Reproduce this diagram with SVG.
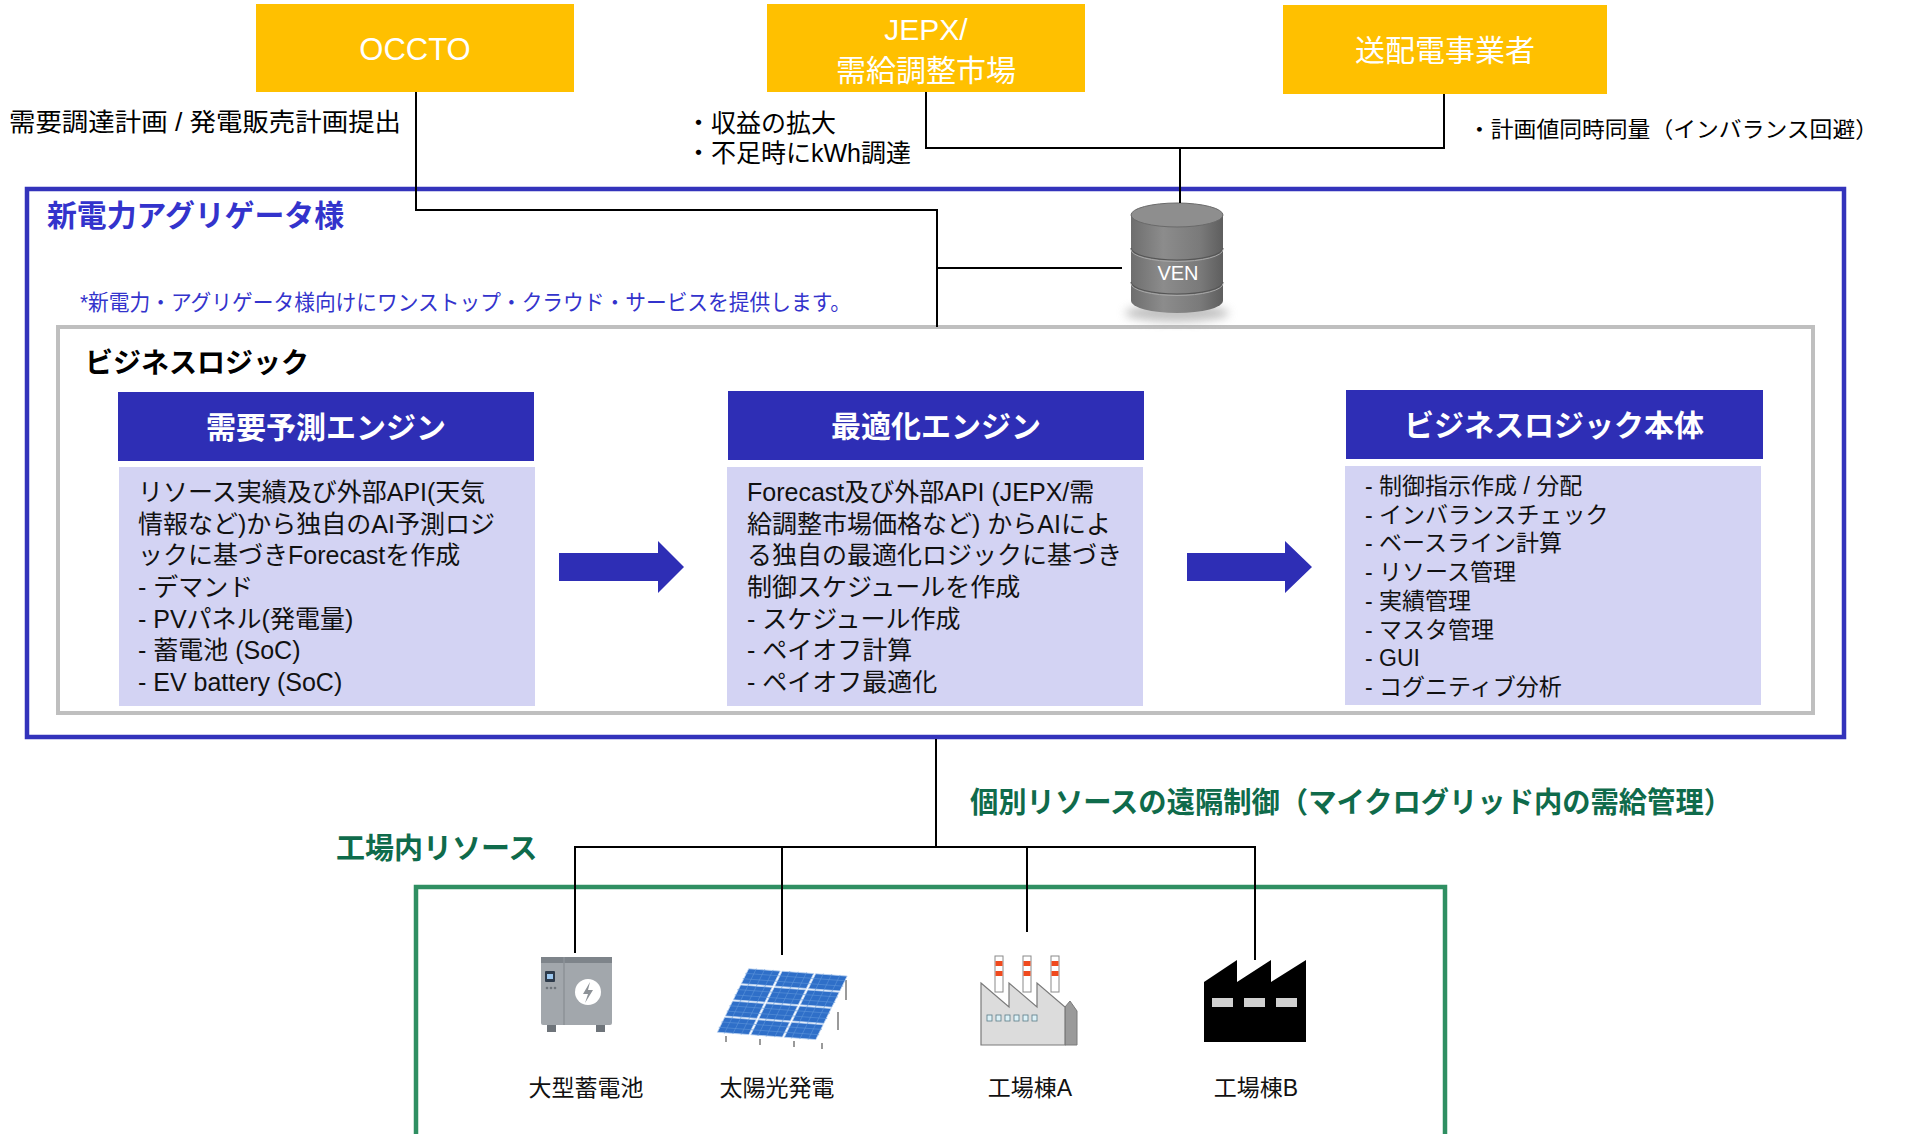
<svg xmlns="http://www.w3.org/2000/svg" width="1908" height="1134" viewBox="0 0 1908 1134">
  <style>
    text { font-family: "Liberation Sans", "Noto Sans CJK JP", sans-serif; }
    .ext { fill: #FFC000; }
    .ext-t { fill: #FFFFFF; font-size: 30px; text-anchor: middle; }
    .note { fill: #000000; font-size: 25px; }
    .conn { fill: none; stroke: #000000; stroke-width: 2; }
    .hdr { fill: #2E2EB5; }
    .hdr-t { fill: #FFFFFF; font-size: 30px; font-weight: bold; text-anchor: middle; }
    .body { fill: #D3D3F3; }
    .body-t { fill: #111111; font-size: 25px; }
    .body-s { fill: #111111; font-size: 23px; }
    .flow { fill: #2E2EB5; }
    .green-t { fill: #0F6B4B; font-size: 29px; font-weight: bold; }
    .icon-t { fill: #111111; font-size: 23px; text-anchor: middle; }
  </style>
  <defs>
    <linearGradient id="cyl" x1="0" y1="0" x2="1" y2="0">
      <stop offset="0" stop-color="#6E6E6E"/>
      <stop offset="0.35" stop-color="#8C8C8C"/>
      <stop offset="0.75" stop-color="#7A7A7A"/>
      <stop offset="1" stop-color="#5E5E5E"/>
    </linearGradient>
    <filter id="soft" x="-30%" y="-100%" width="160%" height="300%">
      <feGaussianBlur stdDeviation="5"/>
    </filter>
  </defs>

  <!-- external parties -->
  <g id="occto">
    <rect class="ext" x="256" y="4" width="318" height="88"/>
    <text class="ext-t" x="415" y="60" style="font-size:31px">OCCTO</text>
  </g>
  <g id="jepx">
    <rect class="ext" x="767" y="4" width="318" height="88"/>
    <text class="ext-t" x="926" y="40">JEPX/</text>
    <text class="ext-t" x="926" y="81">需給調整市場</text>
  </g>
  <g id="tso">
    <rect class="ext" x="1283" y="5" width="324" height="89"/>
    <text class="ext-t" x="1445" y="61">送配電事業者</text>
  </g>

  <!-- connector captions -->
  <g id="captions">
    <text class="note" x="9" y="131" textLength="392" lengthAdjust="spacingAndGlyphs">需要調達計画 / 発電販売計画提出</text>
    <text class="note" x="686" y="132">・収益の拡大</text>
    <text class="note" x="686" y="162">・不足時にkWh調達</text>
    <text class="note" x="1468" y="137" style="font-size:22px" textLength="410" lengthAdjust="spacingAndGlyphs">・計画値同時同量（インバランス回避）</text>
  </g>

  <!-- aggregator platform -->
  <g id="aggregator">
    <rect x="27" y="189" width="1817" height="548" fill="#FFFFFF" stroke="#3333BB" stroke-width="4.5"/>
    <text x="47" y="226" fill="#3333CC" font-size="30" font-weight="bold" textLength="297" lengthAdjust="spacingAndGlyphs">新電力アグリゲータ様</text>
    <text x="80" y="310" fill="#3333CC" font-size="21.5" textLength="771" lengthAdjust="spacingAndGlyphs">*新電力・アグリゲータ様向けにワンストップ・クラウド・サービスを提供します。</text>
  </g>

  <g id="business-logic">
    <rect x="58" y="327" width="1755" height="386" fill="#FFFFFF" stroke="#BFBFBF" stroke-width="4"/>
    <text x="85" y="373" fill="#000000" font-size="28" font-weight="bold">ビジネスロジック</text>
  </g>

  <!-- VEN database -->
  <g id="ven">
    <ellipse cx="1177" cy="313" rx="52" ry="9" fill="#9A9A9A" opacity="0.6" filter="url(#soft)"/>
    <path d="M1131 215 V301 A46 12 0 0 0 1223 301 V215 Z" fill="url(#cyl)"/>
    <path d="M1131 248 A46 12 0 0 0 1223 248" fill="none" stroke="#555555" stroke-width="1.2"/>
    <path d="M1131 249.5 A46 12 0 0 0 1223 249.5" fill="none" stroke="#A8A8A8" stroke-width="1"/>
    <path d="M1131 282 A46 12 0 0 0 1223 282" fill="none" stroke="#555555" stroke-width="1.2"/>
    <path d="M1131 283.5 A46 12 0 0 0 1223 283.5" fill="none" stroke="#A8A8A8" stroke-width="1"/>
    <ellipse cx="1177" cy="215" rx="46" ry="12" fill="#8E8E8E" stroke="#6A6A6A" stroke-width="1"/>
    <text x="1178" y="280" fill="#FFFFFF" font-size="20" text-anchor="middle">VEN</text>
  </g>

  <!-- engines -->
  <g id="forecast-engine">
    <rect class="hdr" x="118" y="392" width="416" height="69"/>
    <text class="hdr-t" x="326" y="438">需要予測エンジン</text>
    <rect class="body" x="119" y="467" width="416" height="239"/>
    <text class="body-t" x="138" y="501">リソース実績及び外部API(天気</text>
    <text class="body-t" x="138" y="533">情報など)から独自のAI予測ロジ</text>
    <text class="body-t" x="138" y="564">ックに基づきForecastを作成</text>
    <text class="body-t" x="138" y="596">- デマンド</text>
    <text class="body-t" x="138" y="628">- PVパネル(発電量)</text>
    <text class="body-t" x="138" y="659">- 蓄電池 (SoC)</text>
    <text class="body-t" x="138" y="691">- EV battery (SoC)</text>
  </g>

  <g id="optimization-engine">
    <rect class="hdr" x="728" y="391" width="416" height="69"/>
    <text class="hdr-t" x="936" y="437">最適化エンジン</text>
    <rect class="body" x="727" y="467" width="416" height="239"/>
    <text class="body-t" x="747" y="501">Forecast及び外部API (JEPX/需</text>
    <text class="body-t" x="747" y="533">給調整市場価格など) からAIによ</text>
    <text class="body-t" x="747" y="564">る独自の最適化ロジックに基づき</text>
    <text class="body-t" x="747" y="596">制御スケジュールを作成</text>
    <text class="body-t" x="747" y="628">- スケジュール作成</text>
    <text class="body-t" x="747" y="659">- ペイオフ計算</text>
    <text class="body-t" x="747" y="691">- ペイオフ最適化</text>
  </g>

  <g id="business-core">
    <rect class="hdr" x="1346" y="390" width="417" height="69"/>
    <text class="hdr-t" x="1554" y="436">ビジネスロジック本体</text>
    <rect class="body" x="1345" y="466" width="416" height="239"/>
    <text class="body-s" x="1365" y="494">- 制御指示作成 / 分配</text>
    <text class="body-s" x="1365" y="523">- インバランスチェック</text>
    <text class="body-s" x="1365" y="551">- ベースライン計算</text>
    <text class="body-s" x="1365" y="580">- リソース管理</text>
    <text class="body-s" x="1365" y="609">- 実績管理</text>
    <text class="body-s" x="1365" y="638">- マスタ管理</text>
    <text class="body-s" x="1365" y="666">- GUI</text>
    <text class="body-s" x="1365" y="695">- コグニティブ分析</text>
  </g>

  <g id="flow-arrows">
    <polygon class="flow" points="559,553 658,553 658,541 684,567 658,593 658,581 559,581"/>
    <polygon class="flow" points="1187,553 1285,553 1285,541 1312,567 1285,593 1285,581 1187,581"/>
  </g>

  <!-- plant-side resources -->
  <g id="remote-control-label">
    <text class="green-t" x="970" y="813" textLength="762" lengthAdjust="spacingAndGlyphs">個別リソースの遠隔制御（マイクログリッド内の需給管理）</text>
  </g>
  <g id="factory-resources">
    <text class="green-t" x="336" y="859">工場内リソース</text>
    <rect x="416" y="887" width="1029" height="260" fill="none" stroke="#2F8F62" stroke-width="4.5"/>
  </g>

  <!-- connectors -->
  <g id="connectors">
    <path class="conn" d="M416 92 V210 H937 V327"/>
    <path class="conn" d="M937 268 H1122"/>
    <path class="conn" d="M926 92 V148 H1444 V94"/>
    <path class="conn" d="M1180 148 V203"/>
    <path class="conn" d="M936 739 V847"/>
    <path class="conn" d="M575 953 V847 H1255 V960"/>
    <path class="conn" d="M782 847 V955"/>
    <path class="conn" d="M1027 847 V932"/>
  </g>

  <!-- large storage battery -->
  <g id="battery">
    <rect x="541" y="957" width="71" height="68" rx="2" fill="#A2A7AC"/>
    <rect x="541" y="957" width="71" height="6" fill="#7E848A"/>
    <line x1="564" y1="957" x2="564" y2="1025" stroke="#8D9297" stroke-width="1.5"/>
    <rect x="545" y="971" width="10" height="11" rx="1" fill="#2D3A4A"/>
    <rect x="547" y="974" width="6" height="5" fill="#9CC8F0"/>
    <circle cx="547" cy="988" r="1.3" fill="#6E747A"/>
    <circle cx="551" cy="988" r="1.3" fill="#6E747A"/>
    <circle cx="555" cy="988" r="1.3" fill="#6E747A"/>
    <circle cx="588" cy="992" r="13" fill="#FFFFFF"/>
    <polygon points="590,982 583,994 588,994 585,1003 593,990 588,990" fill="#8D9297"/>
    <rect x="547" y="1025" width="9" height="7" fill="#6E747A"/>
    <rect x="596" y="1025" width="9" height="7" fill="#6E747A"/>
    <text class="icon-t" x="586" y="1096">大型蓄電池</text>
  </g>

  <!-- solar array -->
  <g id="solar">
    <g stroke="#9A9A9A" stroke-width="2">
      <line x1="726" y1="1036" x2="726" y2="1042"/>
      <line x1="760" y1="1039" x2="760" y2="1045"/>
      <line x1="794" y1="1041" x2="794" y2="1047"/>
      <line x1="822" y1="1043" x2="822" y2="1049"/>
      <line x1="846" y1="980" x2="846" y2="1000"/>
      <line x1="838" y1="1012" x2="838" y2="1030"/>
    </g>
    <g transform="matrix(33.5,2.5,-8,16.2,748,968)">
      <g fill="#2F6FC8" stroke="#BFD6F2" stroke-width="0.8" vector-effect="non-scaling-stroke">
        <rect x="0.03" y="0.04" width="0.94" height="0.92" vector-effect="non-scaling-stroke"/>
        <rect x="1.03" y="0.04" width="0.94" height="0.92" vector-effect="non-scaling-stroke"/>
        <rect x="2.03" y="0.04" width="0.94" height="0.92" vector-effect="non-scaling-stroke"/>
        <rect x="0.03" y="1.04" width="0.94" height="0.92" vector-effect="non-scaling-stroke"/>
        <rect x="1.03" y="1.04" width="0.94" height="0.92" vector-effect="non-scaling-stroke"/>
        <rect x="2.03" y="1.04" width="0.94" height="0.92" vector-effect="non-scaling-stroke"/>
        <rect x="0.03" y="2.04" width="0.94" height="0.92" vector-effect="non-scaling-stroke"/>
        <rect x="1.03" y="2.04" width="0.94" height="0.92" vector-effect="non-scaling-stroke"/>
        <rect x="2.03" y="2.04" width="0.94" height="0.92" vector-effect="non-scaling-stroke"/>
        <rect x="0.03" y="3.04" width="0.94" height="0.92" vector-effect="non-scaling-stroke"/>
        <rect x="1.03" y="3.04" width="0.94" height="0.92" vector-effect="non-scaling-stroke"/>
        <rect x="2.03" y="3.04" width="0.94" height="0.92" vector-effect="non-scaling-stroke"/>
      </g>
      <path d="M0.25 0 V4 M0.5 0 V4 M0.75 0 V4 M1.25 0 V4 M1.5 0 V4 M1.75 0 V4 M2.25 0 V4 M2.5 0 V4 M2.75 0 V4 M0 0.33 H3 M0 0.66 H3 M0 1.33 H3 M0 1.66 H3 M0 2.33 H3 M0 2.66 H3 M0 3.33 H3 M0 3.66 H3" fill="none" stroke="#5E95DA" stroke-width="0.6" vector-effect="non-scaling-stroke"/>
    </g>
    <text class="icon-t" x="777" y="1096">太陽光発電</text>
  </g>

  <!-- factory building A -->
  <g id="factory-a">
    <g stroke="#8A8A8A" stroke-width="1">
      <rect x="995" y="956" width="8" height="36" fill="#FFFFFF"/>
      <rect x="1023" y="956" width="8" height="36" fill="#FFFFFF"/>
      <rect x="1051" y="956" width="8" height="36" fill="#FFFFFF"/>
    </g>
    <g fill="#F04A1E">
      <rect x="995.5" y="961" width="7" height="5"/>
      <rect x="995.5" y="971" width="7" height="5"/>
      <rect x="1023.5" y="961" width="7" height="5"/>
      <rect x="1023.5" y="971" width="7" height="5"/>
      <rect x="1051.5" y="961" width="7" height="5"/>
      <rect x="1051.5" y="971" width="7" height="5"/>
    </g>
    <polygon points="1065,1007 1070,1001 1077,1011 1077,1045 1065,1045" fill="#9A9A9A" stroke="#7A7A7A" stroke-width="1"/>
    <polygon points="981,983 1009,1007 1009,983 1037,1007 1037,983 1065,1007 1065,1045 981,1045" fill="#DCDCDC" stroke="#7A7A7A" stroke-width="1.2"/>
    <g fill="#DDF2F8" stroke="#5A7A86" stroke-width="0.8">
      <rect x="987" y="1015" width="5" height="6"/>
      <rect x="996" y="1015" width="5" height="6"/>
      <rect x="1005" y="1015" width="5" height="6"/>
      <rect x="1014" y="1015" width="5" height="6"/>
      <rect x="1023" y="1015" width="5" height="6"/>
      <rect x="1032" y="1015" width="5" height="6"/>
    </g>
    <text class="icon-t" x="1030" y="1096">工場棟A</text>
  </g>

  <!-- factory building B -->
  <g id="factory-b">
    <polygon points="1204,1042 1204,982 1237,960 1237,982 1271,960 1271,982 1306,960 1306,1042" fill="#000000"/>
    <g fill="#D0D0D0">
      <rect x="1212" y="998" width="21" height="9"/>
      <rect x="1244" y="998" width="21" height="9"/>
      <rect x="1276" y="998" width="21" height="9"/>
    </g>
    <text class="icon-t" x="1256" y="1096">工場棟B</text>
  </g>
</svg>
